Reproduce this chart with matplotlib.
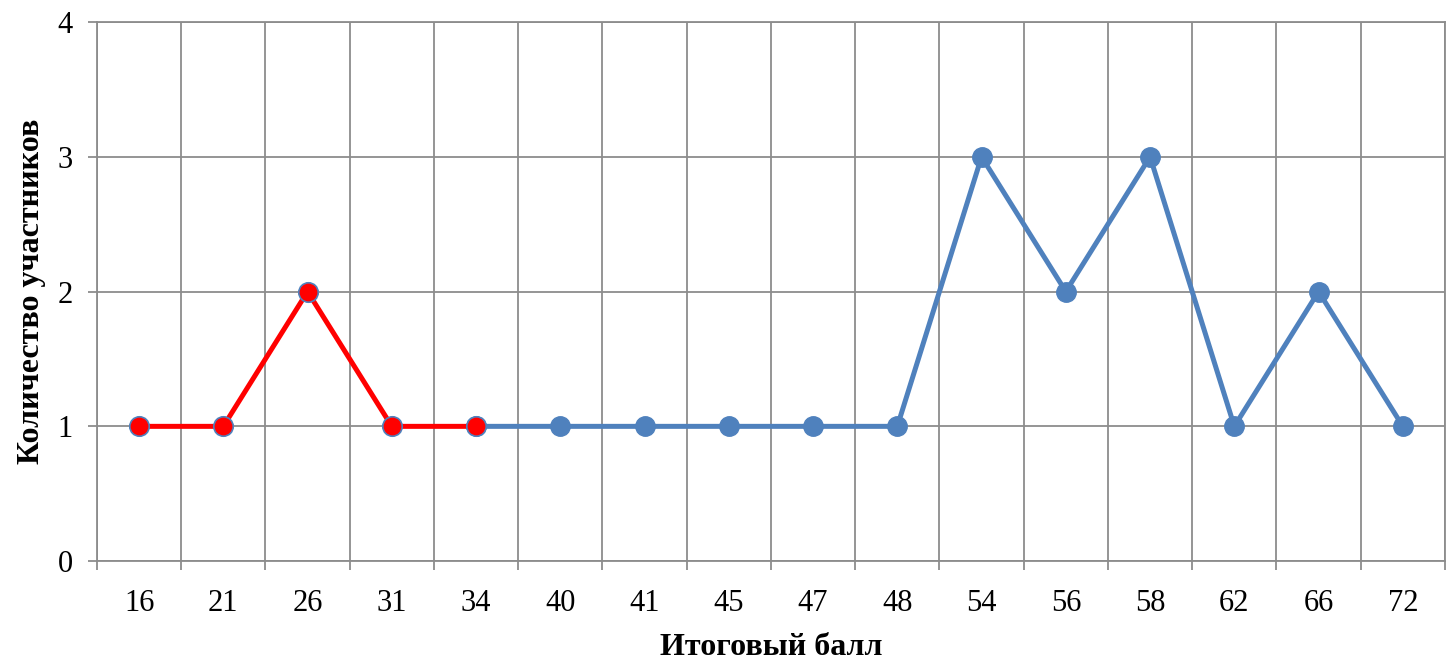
import matplotlib
matplotlib.use('Agg')
import matplotlib.pyplot as plt
import numpy as np

# Итоговый балл и количество участников
scores = ['16', '21', '26', '31', '34', '40', '41', '45', '47', '48',
          '54', '56', '58', '62', '66', '72']
counts = [1, 1, 2, 1, 1, 1, 1, 1, 1, 1, 3, 2, 3, 1, 2, 1]
n_red = 5  # первые баллы выделены красным

plt.rcParams['font.family'] = ['Liberation Serif', 'DejaVu Serif']

BLUE = '#4F81BD'
RED = '#FF0000'
GRID = '#8C8C8C'

fig = plt.figure(figsize=(14.49, 6.68), dpi=100, facecolor='white')
ax = fig.add_axes([0.0669, 0.160, 0.9303, 0.807])

x = np.arange(len(scores))
ax.plot(x[n_red - 1:], counts[n_red - 1:], color=BLUE, linewidth=3.6,
        marker='o', markersize=14, markerfacecolor=BLUE,
        markeredgecolor=BLUE, zorder=3)
ax.plot(x[:n_red], counts[:n_red], color=RED, linewidth=3.6,
        marker='o', markersize=14, markerfacecolor=RED,
        markeredgecolor=BLUE, markeredgewidth=1.2, zorder=4)

ax.set_xlim(-0.5, len(scores) - 0.5)
ax.set_ylim(0, 4)
ax.set_yticks([0, 1, 2, 3, 4])

ax.set_xticks(x)
ax.set_xticklabels(scores)
ax.set_xticks(np.arange(-0.5, len(scores)), minor=True)
ax.tick_params(axis='x', which='major', length=0, pad=20, labelsize=22)
ax.tick_params(axis='x', which='minor', length=6.5, width=1.3, color=GRID)
ax.tick_params(axis='y', length=6.5, width=1.3, color=GRID, pad=11, labelsize=22)

ax.grid(True, axis='x', which='minor', color=GRID, linewidth=1.3)
ax.grid(True, axis='y', which='major', color=GRID, linewidth=1.3)
ax.set_axisbelow(True)
for sp in ax.spines.values():
    sp.set_color(GRID)
    sp.set_linewidth(1.3)

ax.set_xlabel('Итоговый балл', fontsize=23, fontweight='bold', labelpad=11)
ax.set_ylabel('Количество участников', fontsize=23, fontweight='bold', labelpad=8)

fig.savefig('out.png', dpi=100, facecolor='white')
